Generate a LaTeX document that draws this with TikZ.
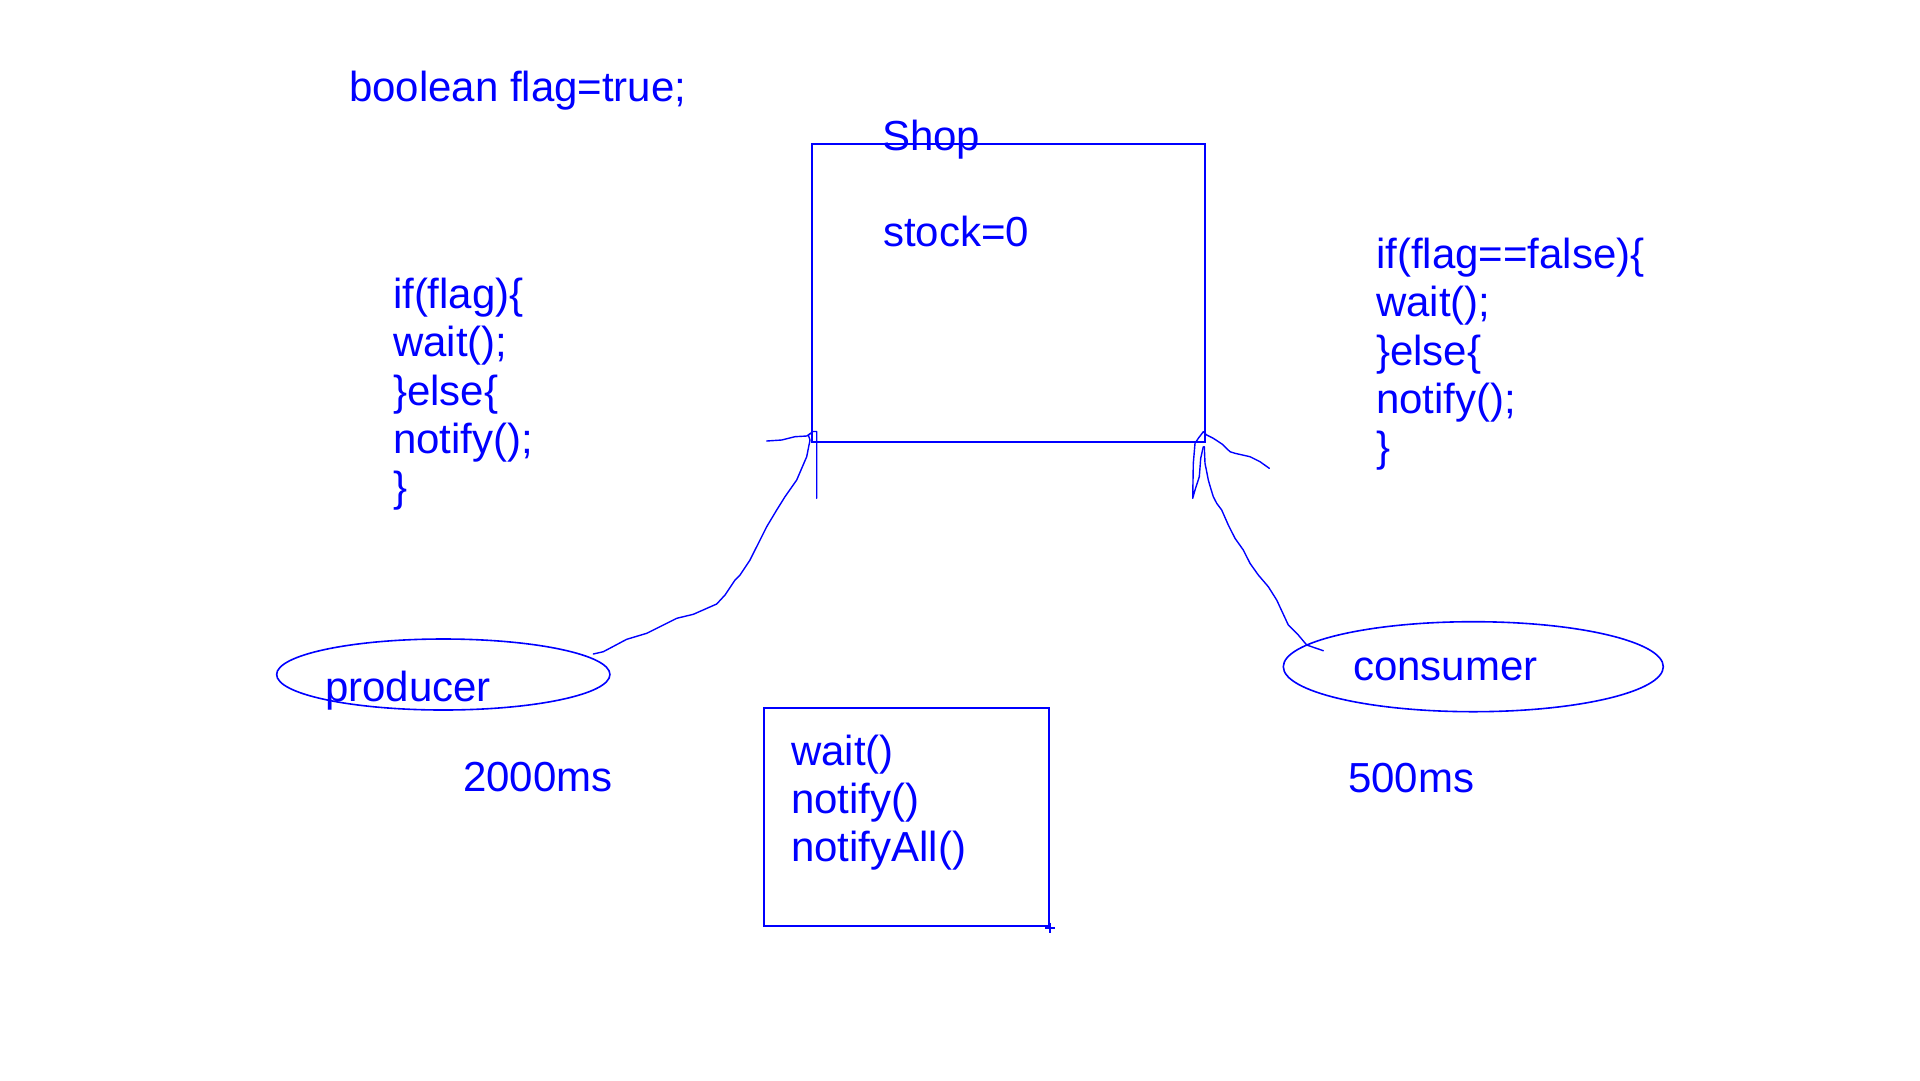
\documentclass[tikz,border=0pt]{standalone}
\usepackage{fontspec}
\setmainfont{Liberation Sans}
\usetikzlibrary{shapes.geometric}
\definecolor{ink}{RGB}{0,0,255}
\begin{document}
\begin{tikzpicture}[x=1pt,y=-1pt,
  txt/.style={anchor=base west, inner sep=0pt, outer sep=0pt, text=ink, font=\fontsize{42}{48}\selectfont},
  frame/.style={draw=ink, line width=2pt, inner sep=0pt, rectangle},
  oval/.style={draw=ink, line width=1.6pt, ellipse, inner sep=0pt},
  scribble/.style={draw=ink, line width=1.4pt, line join=round, line cap=round}]
\useasboundingbox[fill=white] (0,0) rectangle (1920,1080);

% top declaration
\node[txt] (decl) at (349,101.7) {boolean flag=true;};

% shop box
\node[frame, minimum width=393pt, minimum height=297.7pt] (shop) at (1008.5,292.8) {};
\node[txt] (shoplabel) at (882,150) {Shop};
\node[txt] (stock) at (883,246.7) {stock=0};

% left code
\node[txt] (l1) at (393,308.3) {if(flag)\{};
\node[txt] (l2) at (393,356.7) {wait();};
\node[txt] (l3) at (393,405) {\}else\{};
\node[txt] (l4) at (393,453.3) {notify();};
\node[txt] (l5) at (393,501.7) {\}};

% right code
\node[txt] (r1) at (1376,268.3) {if(flag==false)\{};
\node[txt] (r2) at (1376,316.7) {wait();};
\node[txt] (r3) at (1376,365) {\}else\{};
\node[txt] (r4) at (1376,413.3) {notify();};
\node[txt] (r5) at (1376,461.7) {\}};

% producer / consumer
\node[oval, minimum width=333.3pt, minimum height=71pt] (prod) at (443.3,674.5) {};
\node[txt] (prodlabel) at (325,701.7) {producer};
\node[oval, minimum width=380pt, minimum height=90pt] (cons) at (1473.3,666.7) {};
\node[txt] (conslabel) at (1353,680.7) {consumer};

\node[txt] (t1) at (463,791.7) {2000ms};
\node[txt] (t2) at (1348,792.3) {500ms};

% methods box
\node[frame, minimum width=284.7pt, minimum height=218pt] (methods) at (906.65,816.7) {};
\node[txt] (m1) at (791,765) {wait()};
\node[txt] (m2) at (791,813.3) {notify()};
\node[txt] (m3) at (791,861.7) {notifyAll()};
\draw[ink, line width=1.6pt] (methods.south east) ++(-5,1.5) -- ++(10,0);
\draw[ink, line width=1.6pt] (methods.south east) ++(0,-4) -- ++(0,10);

% producer scribble to shop corner
\draw[scribble] (593.3,654) -- (603.3,651.7) -- (626.7,639.3) -- (646.7,633.3)
  -- (676.7,618.3) -- (693.3,614.3) -- (716.7,604) -- (725,595) -- (735,580)
  -- (740,575) -- (750,560) -- (766.7,526.7) -- (776.7,510) -- (785,496.7)
  -- (796.7,480) -- (806.7,456.7) -- (810,440) -- (808.3,435) -- (813,431.5)
  -- (816.7,431.5) -- (816.7,498.3);
\draw[scribble] (766.7,441) -- (781.7,440) -- (795,436.7) -- (806.7,436) -- (810,434);

% consumer scribble to shop corner
\draw[scribble] (1323.3,650.7) -- (1306.7,645) -- (1298.3,635) -- (1288.3,625)
  -- (1276.7,600) -- (1268.3,586.7) -- (1258.3,575) -- (1250,563.3) -- (1243.3,550)
  -- (1235,538.3) -- (1228.3,525) -- (1221.7,510) -- (1216.7,503.3) -- (1213.3,496.7)
  -- (1210.7,488.3) -- (1208.3,480) -- (1206.7,471.7) -- (1205,463.3) -- (1204.3,446.7);
\draw[scribble] (1269.3,468.3) -- (1260,461.7) -- (1250,456.7) -- (1235,453.3)
  -- (1230,451.7) -- (1222,444) -- (1213.3,438.3) -- (1206.7,435) -- (1203.3,431.7)
  -- (1198.3,438.3) -- (1195,443.3) -- (1194.3,451.7) -- (1193.3,463.3) -- (1192.7,498.3)
  -- (1195,490) -- (1199.3,476.7) -- (1200.7,458.3) -- (1203.3,446.7);
\end{tikzpicture}
\end{document}
